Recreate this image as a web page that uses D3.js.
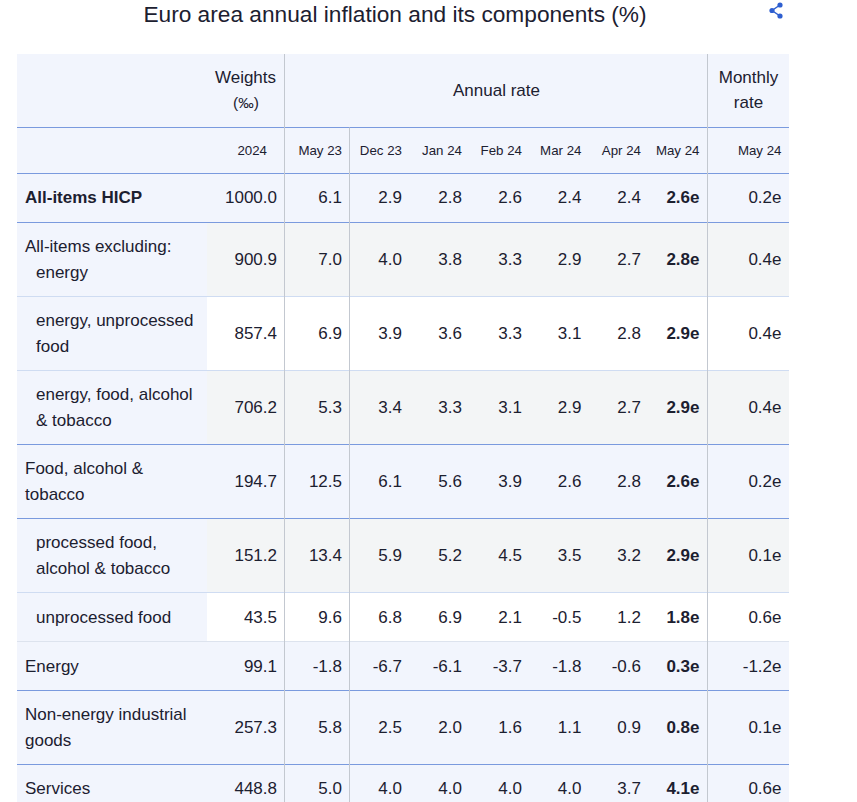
<!DOCTYPE html>
<html>
<head>
<meta charset="utf-8">
<script src="https://cdn.jsdelivr.net/npm/d3@7"></script>
<style>
html, body { margin: 0; padding: 0; background: #fff; overflow: hidden; }
text { font-family: "Liberation Sans", Arial, sans-serif; fill: #1c2030; }
</style>
</head>
<body>
<div id="chart"></div>
<script>
var title = "Euro area annual inflation and its components (%)";
var months = ["May 23", "Dec 23", "Jan 24", "Feb 24", "Mar 24", "Apr 24", "May 24"];
var monthlyLabel = "May 24";
var weightsYear = "2024";

var labels = [
  ["All-items HICP"],
  ["All-items excluding:", "energy"],
  ["energy, unprocessed", "food"],
  ["energy, food, alcohol", "& tobacco"],
  ["Food, alcohol &", "tobacco"],
  ["processed food,", "alcohol & tobacco"],
  ["unprocessed food"],
  ["Energy"],
  ["Non-energy industrial", "goods"],
  ["Services"]
];
var indents = [[0], [0, 11], [11, 11], [11, 11], [0, 0], [11, 11], [11], [0], [0, 0], [0]];
var weights = ["1000.0", "900.9", "857.4", "706.2", "194.7", "151.2", "43.5", "99.1", "257.3", "448.8"];
var annual = [
  ["6.1", "2.9", "2.8", "2.6", "2.4", "2.4", "2.6e"],
  ["7.0", "4.0", "3.8", "3.3", "2.9", "2.7", "2.8e"],
  ["6.9", "3.9", "3.6", "3.3", "3.1", "2.8", "2.9e"],
  ["5.3", "3.4", "3.3", "3.1", "2.9", "2.7", "2.9e"],
  ["12.5", "6.1", "5.6", "3.9", "2.6", "2.8", "2.6e"],
  ["13.4", "5.9", "5.2", "4.5", "3.5", "3.2", "2.9e"],
  ["9.6", "6.8", "6.9", "2.1", "-0.5", "1.2", "1.8e"],
  ["-1.8", "-6.7", "-6.1", "-3.7", "-1.8", "-0.6", "0.3e"],
  ["5.8", "2.5", "2.0", "1.6", "1.1", "0.9", "0.8e"],
  ["5.0", "4.0", "4.0", "4.0", "4.0", "3.7", "4.1e"]
];
var monthly = ["0.2e", "0.4e", "0.4e", "0.4e", "0.2e", "0.1e", "0.6e", "-1.2e", "0.1e", "0.6e"];

// row look
var rowFill = ["#f2f5fd", "#f3f5f6", "#ffffff", "#f3f5f6", "#f2f5fd", "#f3f5f6", "#ffffff", "#f2f5fd", "#f2f5fd", "#f2f5fd"];
var lineBelow = ["#7a9ade", "#cfdcf2", "#cfdcf2", "#7a9ade", "#7a9ade", "#cfdcf2", "#dde3ee", "#7a9ade", "#7a9ade", "none"];

var width = 857, height = 802;
var tableLeft = 17, tableRight = 789, labelRight = 207;
var tableTop = 54, headBottom = 127.5, subBottom = 173.5;
var lineGap = 26;
var bodySize = 17, smallSize = 13.3;

var svg = d3.select("#chart").append("svg")
  .attr("width", width)
  .attr("height", height)
  .style("display", "block");

// rows stacked by number of text lines
var y = [subBottom];
labels.forEach(function(d, i) {
  var h = d.length == 1 ? 49 : 49 + 25;
  y.push(y[i] + h);
});

// right edge of each number column
var monthEdge = d3.scaleOrdinal().domain(months.map(function(d, i) { return i; }))
  .range([342, 402, 462, 522, 581.5, 641, 699.5]);
var weightEdge = 277, monthlyEdge = 781.5;

svg.append("text")
  .attr("x", 395).attr("y", 21.5)
  .attr("text-anchor", "middle")
  .style("font-size", "22.7px")
  .text(title);

// share icon
var share = svg.append("g").attr("stroke", "#2e5fd0").attr("fill", "#2e5fd0");
share.append("polyline")
  .attr("points", "780,5 772,10.5 780,16")
  .attr("fill", "none").attr("stroke-width", 1.5);
[[780, 5], [772, 10.5], [780, 16]].forEach(function(p) {
  share.append("circle").attr("cx", p[0]).attr("cy", p[1]).attr("r", 2.6).attr("stroke", "none");
});

// header background
svg.append("rect")
  .attr("x", tableLeft).attr("y", tableTop)
  .attr("width", tableRight - tableLeft).attr("height", subBottom - tableTop)
  .attr("fill", "#f2f5fd");

// body backgrounds
svg.selectAll("rect.label").data(labels).enter().append("rect")
  .attr("class", "label")
  .attr("x", tableLeft)
  .attr("y", function(d, i) { return y[i]; })
  .attr("width", labelRight - tableLeft)
  .attr("height", function(d, i) { return y[i + 1] - y[i]; })
  .attr("fill", "#f2f5fd");

svg.selectAll("rect.row").data(labels).enter().append("rect")
  .attr("class", "row")
  .attr("x", labelRight)
  .attr("y", function(d, i) { return y[i]; })
  .attr("width", tableRight - labelRight)
  .attr("height", function(d, i) { return y[i + 1] - y[i]; })
  .attr("fill", function(d, i) { return rowFill[i]; });

// horizontal rules
svg.selectAll("line.row").data(labels).enter().append("line")
  .attr("class", "row")
  .attr("x1", tableLeft).attr("x2", tableRight)
  .attr("y1", function(d, i) { return y[i + 1]; })
  .attr("y2", function(d, i) { return y[i + 1]; })
  .attr("stroke", function(d, i) { return lineBelow[i]; });

[headBottom, subBottom].forEach(function(v) {
  svg.append("line")
    .attr("x1", tableLeft).attr("x2", tableRight)
    .attr("y1", v).attr("y2", v)
    .attr("stroke", "#7a9ade");
});

// vertical rules
[[284.5, tableTop], [349.5, headBottom], [707.5, tableTop]].forEach(function(v) {
  svg.append("line")
    .attr("x1", v[0]).attr("x2", v[0])
    .attr("y1", v[1]).attr("y2", height)
    .attr("stroke", "#c3c8d0");
});

// header text
function headText(x, yy, anchor, size, t) {
  svg.append("text")
    .attr("x", x).attr("y", yy)
    .attr("text-anchor", anchor)
    .style("font-size", size + "px")
    .text(t);
}
headText(245.5, 83, "middle", bodySize, "Weights");
headText(246, 108, "middle", 15.5, "(‰)");
headText(496.5, 96, "middle", bodySize, "Annual rate");
headText(748.5, 83, "middle", bodySize, "Monthly");
headText(748.5, 108, "middle", bodySize, "rate");
headText(267, 155, "end", smallSize, weightsYear);
headText(monthlyEdge, 155, "end", smallSize, monthlyLabel);

svg.selectAll("text.month").data(months).enter().append("text")
  .attr("class", "month")
  .attr("x", function(d, i) { return monthEdge(i); })
  .attr("y", 155)
  .attr("text-anchor", "end")
  .style("font-size", smallSize + "px")
  .text(function(d) { return d; });

// one group per table row
var rows = svg.selectAll("g.tr").data(labels).enter().append("g")
  .attr("class", "tr")
  .attr("transform", function(d, i) { return "translate(0," + y[i] + ")"; });

rows.each(function(d, i) {
  var g = d3.select(this);
  var mid = (y[i + 1] - y[i]) / 2;
  var base = mid + 5.5 - (d.length == 1 ? 0.5 : 0);
  // the two short rows in the middle sit a pixel lower in the original
  if (i == 6 || i == 7) base += 1;

  d.forEach(function(line, k) {
    g.append("text")
      .attr("x", tableLeft + 8 + indents[i][k])
      .attr("y", base + (k - (d.length - 1) / 2) * lineGap)
      .style("font-size", bodySize + "px")
      .style("font-weight", i == 0 ? "bold" : "normal")
      .text(line);
  });

  g.append("text")
    .attr("x", weightEdge).attr("y", base)
    .attr("text-anchor", "end")
    .style("font-size", bodySize + "px")
    .text(weights[i]);

  annual[i].forEach(function(v, k) {
    g.append("text")
      .attr("x", monthEdge(k)).attr("y", base)
      .attr("text-anchor", "end")
      .style("font-size", bodySize + "px")
      .style("font-weight", k == 6 ? "bold" : "normal")
      .text(v);
  });

  g.append("text")
    .attr("x", monthlyEdge).attr("y", base)
    .attr("text-anchor", "end")
    .style("font-size", bodySize + "px")
    .text(monthly[i]);
});
</script>
</body>
</html>
